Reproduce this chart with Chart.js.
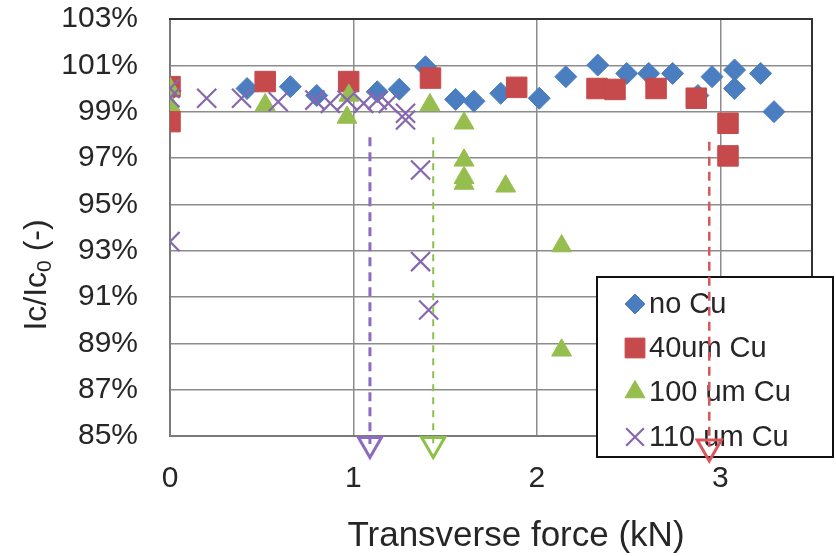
<!DOCTYPE html>
<html>
<head>
<meta charset="utf-8">
<script src="https://cdn.jsdelivr.net/npm/chart.js@4.4.0/dist/chart.umd.min.js"></script>
<style>
  body { margin: 0; background: #fff; }
  canvas { display: block; }
</style>
</head>
<body>
<canvas id="chart" width="836" height="556"></canvas>
<script>
// Series data (force in kN, Ic/Ic0 in %)
const noCuX = [0, 0.42, 0.656, 0.80, 1.13, 1.25, 1.393, 1.557, 1.657, 1.803, 2.013, 2.158, 2.332, 2.49, 2.61, 2.74, 2.878, 2.955, 3.078, 3.078, 3.22, 3.293];
const noCuY = [99.9, 100.0, 100.08, 99.7, 99.86, 99.97, 100.94, 99.53, 99.45, 99.79, 99.58, 100.51, 101.01, 100.65, 100.65, 100.65, 99.7, 100.51, 100.8, 100.0, 100.65, 99.0];

const cu40X = [0, 0, 0.519, 0.974, 1.42, 1.89, 2.328, 2.426, 2.65, 2.869, 3.042, 3.042];
const cu40Y = [100.08, 98.57, 100.3, 100.3, 100.45, 100.05, 100.0, 99.96, 100.0, 99.58, 98.5, 97.09];

const cu100X = [0, 0, 0.519, 0.975, 0.965, 1.417, 1.603, 1.603, 1.603, 1.603, 1.83, 2.135, 2.135];
const cu100Y = [100.0, 99.3, 99.29, 99.7, 98.75, 99.29, 98.5, 96.9, 96.15, 95.9, 95.78, 93.2, 88.7];

const cu110X = [0, 0, 0, 0.2, 0.39, 0.59, 0.79, 0.874, 0.966, 1.056, 1.13, 1.19, 1.284, 1.284, 1.366, 1.366, 1.41];
const cu110Y = [100.0, 99.6, 93.39, 99.58, 99.58, 99.43, 99.5, 99.36, 99.5, 99.36, 99.5, 99.36, 98.93, 98.64, 96.48, 92.53, 90.44];

// Failure markers (dashed arrows): force, start value, end value
const failForce = [1.09, 1.435, 2.94];
const failTop = [97.9, 97.9, 97.7];
const failEnd = [84.65, 84.65, 84.52];

const seriesLabels = ['no Cu', '40um Cu', '100 um Cu', '110 um Cu'];
const xTicks = [0, 1, 2, 3];
const yTicks = [85, 87, 89, 91, 93, 95, 97, 99, 101, 103];
const xTitle = 'Transverse force (kN)';
const yTitleParts = ['Ic/Ic', '0', ' (-)'];

const FONT = "'Liberation Sans', Arial, Helvetica, sans-serif";
const TEXT = '#262626';

function pts(xs, ys) {
    return xs.map((x, i) => ({ x: x, y: ys[i] }));
}

const markerStyles = [
    { pointStyle: 'rectRot', radius: 11, color: '#4A7EC0', border: 1 },
    { pointStyle: 'rect', radius: 14.5, color: '#C64A4B', border: 1 },
    { pointStyle: 'triangle', radius: 11.5, color: '#95BE4E', border: 1 },
    { pointStyle: 'crossRot', radius: 13.5, color: '#8767AE', border: 2.2 }
];
const seriesData = [pts(noCuX, noCuY), pts(cu40X, cu40Y), pts(cu100X, cu100Y), pts(cu110X, cu110Y)];

const datasets = seriesData.map((data, i) => {
    const m = markerStyles[i];
    return {
        label: seriesLabels[i],
        data: data,
        showLine: false,
        pointStyle: m.pointStyle,
        pointRadius: m.radius,
        pointBackgroundColor: m.color,
        pointBorderColor: m.color,
        pointBorderWidth: m.border,
        order: 4 - i + 1
    };
});

// dashed arrows
const arrowColors = ['#8A6CC0', '#8DC04A', '#D9575A'];
const arrowWidths = [3, 2, 2.5];
const arrowDash = [[9, 6], [7, 6], [9, 6]];
const arrowHead = [13.3, 13.3, 14];
failForce.forEach((f, i) => {
    datasets.push({
        label: 'fail' + i,
        data: [{ x: f, y: failTop[i] }, { x: f, y: failEnd[i] }],
        showLine: true,
        borderColor: arrowColors[i],
        borderWidth: arrowWidths[i],
        borderDash: arrowDash[i],
        pointStyle: 'triangle',
        rotation: 180,
        pointRadius: [0, arrowHead[i]],
        pointBackgroundColor: 'rgba(0,0,0,0)',
        pointBorderColor: arrowColors[i],
        pointBorderWidth: 3,
        clip: false,
        order: 0
    });
});

// plot frame + legend box, drawn under the datasets
const framePlugin = {
    id: 'frameAndLegend',
    beforeDatasetsDraw(chart) {
        const { ctx, chartArea: a } = chart;
        ctx.save();
        ctx.lineWidth = 2;
        ctx.strokeStyle = '#7a7a7a';
        ctx.beginPath();
        ctx.moveTo(a.left, a.top);
        ctx.lineTo(a.left, a.bottom);
        ctx.lineTo(a.right, a.bottom);
        ctx.stroke();
        ctx.strokeStyle = '#333';
        ctx.beginPath();
        ctx.moveTo(a.left - 1, a.top);
        ctx.lineTo(a.right, a.top);
        ctx.lineTo(a.right, a.bottom);
        ctx.stroke();

        // legend
        const lx = 597, ly = 277, lw = 236, lh = 180;
        ctx.fillStyle = '#fff';
        ctx.fillRect(lx, ly, lw, lh);
        ctx.lineWidth = 2;
        ctx.strokeStyle = '#111';
        ctx.strokeRect(lx, ly, lw, lh);
        const rows = [304, 348, 392, 437];
        const legendRadius = [10, 14, 11.5, 12.5];
        ctx.font = '29px ' + FONT;
        ctx.textBaseline = 'middle';
        seriesLabels.forEach((label, i) => {
            const m = markerStyles[i];
            ctx.fillStyle = m.color;
            ctx.strokeStyle = m.color;
            ctx.lineWidth = m.border;
            Chart.helpers.drawPoint(ctx, {
                pointStyle: m.pointStyle, radius: legendRadius[i], rotation: 0, borderWidth: m.border
            }, 635, rows[i]);
            ctx.fillStyle = TEXT;
            ctx.fillText(label, 649, rows[i] + 1);
        });
        ctx.restore();
    },
    afterDraw(chart) {
        const ctx = chart.ctx;
        ctx.save();
        ctx.fillStyle = TEXT;
        ctx.textBaseline = 'middle';
        ctx.textAlign = 'center';
        ctx.font = '35px ' + FONT;
        ctx.fillText(xTitle, 516, 536);

        // y title with subscript
        ctx.translate(37, 275);
        ctx.rotate(-Math.PI / 2);
        ctx.textAlign = 'left';
        const big = '32px ' + FONT, small = '21px ' + FONT;
        ctx.font = big;
        const w0 = ctx.measureText(yTitleParts[0]).width;
        const w2 = ctx.measureText(yTitleParts[2]).width;
        ctx.font = small;
        const w1 = ctx.measureText(yTitleParts[1]).width;
        let x = -(w0 + w1 + w2) / 2;
        ctx.font = big;
        ctx.fillText(yTitleParts[0], x, 0);
        x += w0;
        ctx.font = small;
        ctx.fillText(yTitleParts[1], x, 8);
        x += w1;
        ctx.font = big;
        ctx.fillText(yTitleParts[2], x, 0);
        ctx.restore();
    }
};

new Chart(document.getElementById('chart').getContext('2d'), {
    type: 'scatter',
    data: { datasets: datasets },
    options: {
        responsive: false,
        animation: false,
        events: [],
        layout: { padding: { left: 0, top: 19, right: 24, bottom: 0 } },
        plugins: {
            legend: { display: false },
            tooltip: { enabled: false }
        },
        scales: {
            x: {
                type: 'linear',
                min: 0,
                max: 3.5,
                afterBuildTicks: scale => { scale.ticks = xTicks.map(v => ({ value: v })); },
                afterFit: scale => {
                    scale.height = 120;
                    scale.paddingLeft = 0;
                    scale.paddingRight = 0;
                },
                grid: { color: '#8c8c8c', lineWidth: 1.5, drawTicks: false },
                border: { display: false },
                ticks: {
                    padding: 25,
                    color: TEXT,
                    font: { family: FONT, size: 30 },
                    maxRotation: 0
                }
            },
            y: {
                type: 'linear',
                min: 85,
                max: 103,
                afterBuildTicks: scale => { scale.ticks = yTicks.map(v => ({ value: v })); },
                afterFit: scale => {
                    scale.width = 170;
                    scale.paddingTop = 0;
                    scale.paddingBottom = 0;
                },
                grid: { color: '#8c8c8c', lineWidth: 1.5, drawTicks: false },
                border: { display: false },
                ticks: {
                    padding: 32,
                    color: TEXT,
                    font: { family: FONT, size: 30 },
                    callback: v => v + '%'
                }
            }
        }
    },
    plugins: [framePlugin]
});
</script>
</body>
</html>
